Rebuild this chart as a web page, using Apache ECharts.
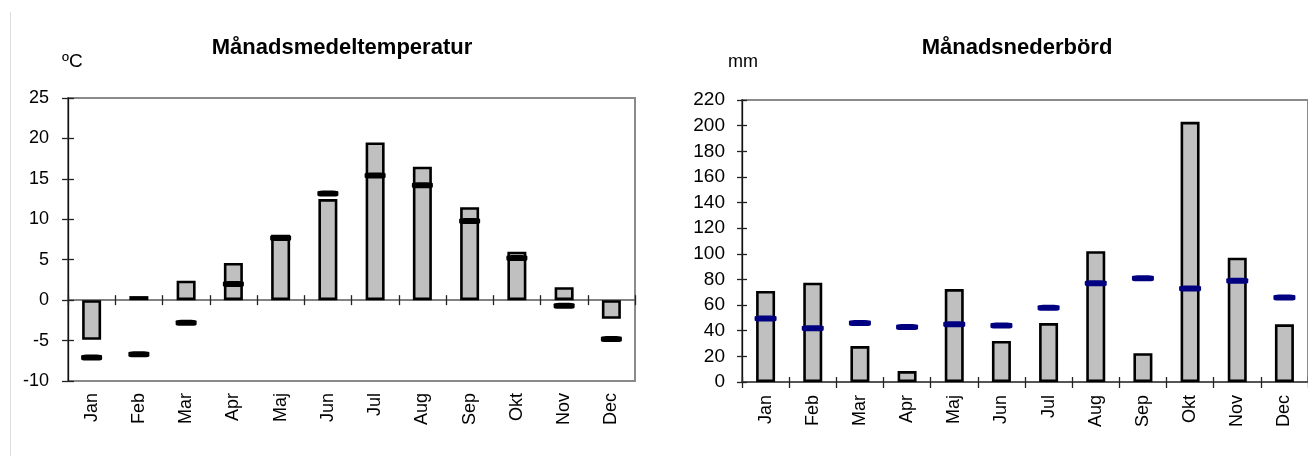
<!DOCTYPE html>
<html>
<head>
<meta charset="utf-8">
<script src="https://cdn.jsdelivr.net/npm/echarts@6/dist/echarts.min.js"></script>
<style>
  html, body { margin: 0; padding: 0; background: #fff; }
  #chart { width: 1308px; height: 456px; }
</style>
</head>
<body>
<div id="chart"></div>
<script>
// månader
const months = ['Jan', 'Feb', 'Mar', 'Apr', 'Maj', 'Jun', 'Jul', 'Aug', 'Sep', 'Okt', 'Nov', 'Dec']

// temperatur (°C): årets värde och normalvärde
const tempYear = [-4.9, 0.5, 2.4, 4.6, 8.1, 12.5, 19.5, 16.5, 11.5, 6.0, 1.6, -2.3]
const tempNormal = [-7.1, -6.7, -2.8, 2.0, 7.7, 13.2, 15.4, 14.2, 9.8, 5.2, -0.7, -4.8]

// nederbörd (mm): årets värde och normalvärde
const precipYear = [71, 77.5, 28, 8.5, 72.5, 32, 46, 102, 22.5, 203, 97, 45]
const precipNormal = [49.5, 42, 46, 43, 45, 44, 58, 77, 81, 73, 79, 66]

const FONT = "'Liberation Sans', Arial, sans-serif"
const label = (size, extra) => Object.assign({ color: '#000', fontSize: size, fontFamily: FONT }, extra)
const tickStyle = { color: '#222', width: 1.3 }

const chart = echarts.init(document.getElementById('chart'))

// x-axlar: en med månadsnamn, och två på nollan (in/ut) för korsade tickar
const catAxis = (grid, extra) => Object.assign({
  type: 'category',
  gridIndex: grid,
  data: months,
  boundaryGap: true,
  position: 'bottom',
  splitLine: { show: false },
}, extra)

// y-axlar: en synlig och en dold med inåtriktade tickar
const valAxis = (grid, min, max, step, extra) => Object.assign({
  type: 'value',
  gridIndex: grid,
  min: min,
  max: max,
  interval: step,
  position: 'left',
  splitLine: { show: false },
}, extra)

chart.setOption({
  animation: false,
  grid: [
    { left: 68, top: 98, width: 567, height: 283, show: true, borderColor: '#8a8a8a', borderWidth: 2 },
    { left: 742, top: 100, width: 570, height: 282, show: true, borderColor: '#8a8a8a', borderWidth: 2 },
  ],
  xAxis: [
    catAxis(0, {
      axisLine: { show: false, onZero: false },
      axisTick: { show: false },
      axisLabel: label(18, { rotate: 90, margin: 12, interval: 0 }),
    }),
    catAxis(0, {
      axisLine: { show: true, onZero: true, onZeroAxisIndex: 0, lineStyle: { color: '#5a5a5a', width: 1.6 } },
      axisTick: { show: true, length: 5, lineStyle: tickStyle },
      axisLabel: { show: false },
    }),
    catAxis(0, {
      axisLine: { show: false, onZero: true, onZeroAxisIndex: 0 },
      axisTick: { show: true, inside: true, length: 5, lineStyle: tickStyle },
      axisLabel: { show: false },
    }),
    catAxis(1, {
      axisLine: { show: true, onZero: false, lineStyle: { color: '#555', width: 2 } },
      axisTick: { show: true, length: 6, lineStyle: tickStyle },
      axisLabel: label(18, { rotate: 90, margin: 13, interval: 0 }),
    }),
    catAxis(1, {
      axisLine: { show: false, onZero: false },
      axisTick: { show: true, inside: true, length: 5, lineStyle: tickStyle },
      axisLabel: { show: false },
    }),
  ],
  yAxis: [
    valAxis(0, -10, 25, 5, {
      axisLine: { show: true, onZero: false, lineStyle: { color: '#111', width: 1.3 } },
      axisTick: { show: true, length: 6, lineStyle: tickStyle },
      axisLabel: label(18, { margin: 19 }),
    }),
    valAxis(1, 0, 220, 20, {
      axisLine: { show: true, onZero: false, lineStyle: { color: '#111', width: 1.3 } },
      axisTick: { show: true, length: 5, lineStyle: tickStyle },
      axisLabel: label(19, { margin: 17 }),
    }),
    valAxis(0, -10, 25, 5, {
      axisLine: { show: false, onZero: false },
      axisTick: { show: true, inside: true, length: 6, lineStyle: tickStyle },
      axisLabel: { show: false },
    }),
    valAxis(1, 0, 220, 20, {
      axisLine: { show: false, onZero: false },
      axisTick: { show: true, inside: true, length: 5, lineStyle: tickStyle },
      axisLabel: { show: false },
    }),
  ],
  series: [
    {
      type: 'bar', xAxisIndex: 0, yAxisIndex: 0, data: tempYear, barWidth: 19,
      itemStyle: { color: '#c0c0c0', borderColor: '#000', borderWidth: 2.6 },
    },
    {
      type: 'scatter', xAxisIndex: 0, yAxisIndex: 0, data: tempNormal, z: 5,
      symbol: 'roundRect', symbolSize: [21, 6],
      itemStyle: { color: '#000', opacity: 1 },
    },
    {
      type: 'bar', xAxisIndex: 3, yAxisIndex: 1, data: precipYear, barWidth: 19,
      itemStyle: { color: '#c0c0c0', borderColor: '#000', borderWidth: 2.6 },
    },
    {
      type: 'scatter', xAxisIndex: 3, yAxisIndex: 1, data: precipNormal, z: 5,
      symbol: 'roundRect', symbolSize: [22, 6],
      itemStyle: { color: '#000080', opacity: 1 },
    },
  ],
  graphic: [
    { type: 'line', shape: { x1: 10.5, y1: 12, x2: 10.5, y2: 456 }, style: { stroke: '#dcdcdc', lineWidth: 1 } },
    { type: 'text', x: 342, y: 48, style: { text: 'Månadsmedeltemperatur', font: 'bold 22px ' + FONT, fill: '#000', align: 'center', verticalAlign: 'middle' } },
    { type: 'text', x: 1017, y: 48, style: { text: 'Månadsnederbörd', font: 'bold 22px ' + FONT, fill: '#000', align: 'center', verticalAlign: 'middle' } },
    { type: 'text', x: 62, y: 62, style: { text: 'ºC', font: '19px ' + FONT, fill: '#000', verticalAlign: 'middle' } },
    { type: 'text', x: 728, y: 62, style: { text: 'mm', font: '18px ' + FONT, fill: '#000', verticalAlign: 'middle' } },
  ],
})
</script>
</body>
</html>
